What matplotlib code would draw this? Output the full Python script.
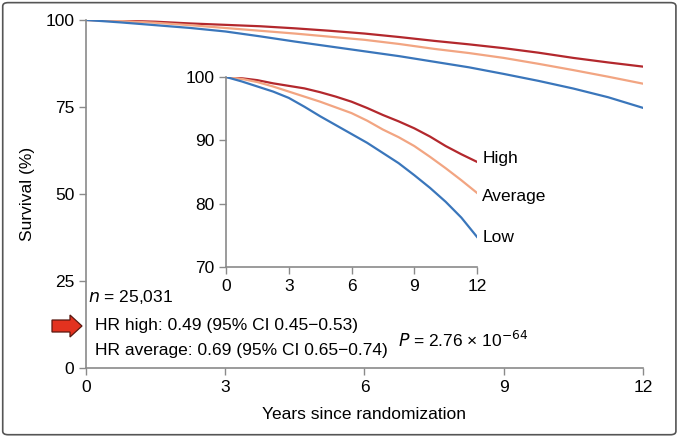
import matplotlib
matplotlib.use("Agg")
import matplotlib.pyplot as plt
from matplotlib.patches import FancyBboxPatch, FancyArrow

plt.rcParams['font.family'] = ['Liberation Sans', 'DejaVu Sans']

# survival curves (years, %)
years = [0, 0.75, 1.5, 2.25, 3, 3.75, 4.5, 5.25, 6, 6.75, 7.5, 8.25, 9, 9.75, 10.5, 11.25, 12]
high = [100, 99.8, 99.5, 99.0, 98.6, 98.2, 97.6, 96.9, 96.1, 95.1, 94.0, 93.0, 91.9, 90.6, 89.1, 87.8, 86.6]
average = [100, 99.7, 99.2, 98.5, 97.7, 96.9, 96.1, 95.2, 94.3, 93.1, 91.7, 90.5, 89.1, 87.4, 85.6, 83.7, 81.7]
low = [100, 99.3, 98.5, 97.7, 96.7, 95.3, 93.8, 92.4, 91.0, 89.6, 88.0, 86.4, 84.5, 82.5, 80.3, 77.8, 74.75]

groups = ["High", "Average", "Low"]
label_y = [87.2, 81.2, 74.7]
colors = ["#b3282d", "#f2a582", "#3a76bb"]
series = [high, average, low]

main_yticks = [0, 25, 50, 75, 100]
inset_yticks = [70, 80, 90, 100]
xticks = [0, 3, 6, 9, 12]

FS = 12.5

fig = plt.figure(figsize=(6.8, 4.4), dpi=100)

# frame around the figure
frame = FancyBboxPatch((0.004, 0.012), 0.99, 0.982, boxstyle="round,pad=0,rounding_size=0.008",
                       transform=fig.transFigure, fc="white", ec="#555555", lw=1.2, zorder=-10)
fig.patches.append(frame)


def style(ax):
    for s in ["top", "right"]:
        ax.spines[s].set_visible(False)
    for s in ["left", "bottom"]:
        ax.spines[s].set_color("#8a8a8a")
        ax.spines[s].set_linewidth(1.2)
    ax.tick_params(colors="#8a8a8a", labelcolor="black", labelsize=FS, length=5, width=1.0)
    ax.patch.set_alpha(0)


ax = fig.add_axes([0.1265, 0.1636, 0.819, 0.791])
for vals, c in zip(series, colors):
    ax.plot(years, vals, color=c, lw=1.6)
ax.set_xlim(0, 12)
ax.set_ylim(0, 100)
ax.set_xticks(xticks)
ax.set_yticks(main_yticks)
style(ax)
ax.set_xlabel("Years since randomization", fontsize=FS, labelpad=9)
ax.set_ylabel("Survival (%)", fontsize=FS, labelpad=7)

ax.text(0.04, 20.4, "$n$ = 25,031", fontsize=FS, va="center")
ax.text(0.2, 12.1, "HR high: 0.49 (95% CI 0.45\u22120.53)", fontsize=FS, va="center")
ax.text(0.2, 4.9, "HR average: 0.69 (95% CI 0.65\u22120.74)", fontsize=FS, va="center")
ax.text(6.72, 8.0, "$P$ = 2.76 \u00d7 10$^{\u221264}$", fontsize=FS, va="center")

arrow = FancyArrow(52 / 680, 1 - 326 / 440, 30 / 680, 0, width=12 / 440, head_width=22 / 440,
                   head_length=12 / 680, length_includes_head=True, transform=fig.transFigure,
                   fc="#e3321f", ec="#5a1810", lw=0.9)
fig.patches.append(arrow)

ins = fig.add_axes([0.3324, 0.3932, 0.3691, 0.4318])
for vals, c, g, ly in zip(series, colors, groups, label_y):
    ins.plot(years, vals, color=c, lw=1.6)
    ins.text(12.25, ly, g, fontsize=FS, va="center")
ins.set_xlim(0, 12)
ins.set_ylim(70, 100)
ins.set_xticks(xticks)
ins.set_yticks(inset_yticks)
style(ins)

fig.savefig("out.png", dpi=100)
